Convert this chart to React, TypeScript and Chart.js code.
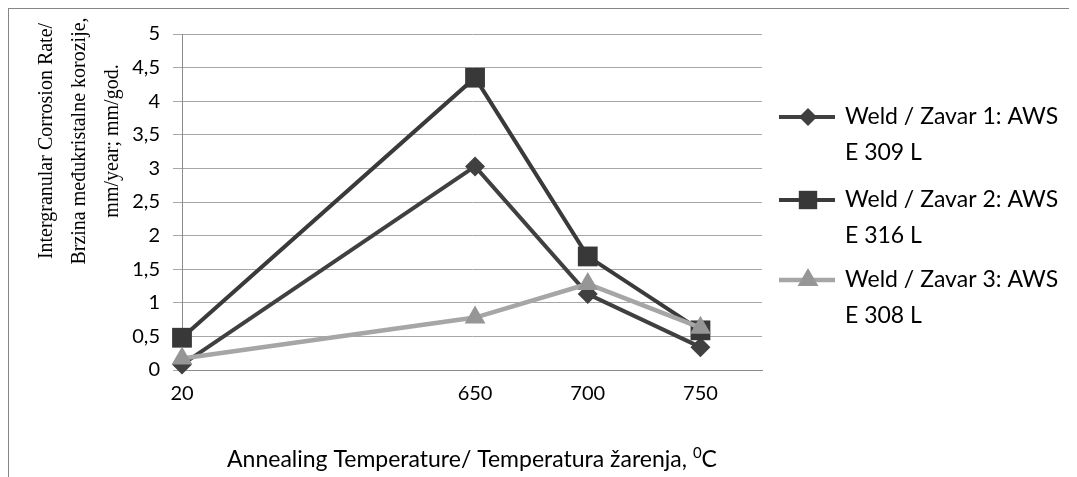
import { useEffect, useRef } from 'react';
import { Chart, registerables } from 'chart.js';

Chart.register(...registerables);

// ---- data ----
const temperatures = [20, 650, 700, 750];
const seriesLabels = [
  'Weld / Zavar 1: AWS E 309 L',
  'Weld / Zavar 2: AWS E 316 L',
  'Weld / Zavar 3: AWS E 308 L',
];
const weld1 = [0.08, 3.03, 1.13, 0.34];
const weld2 = [0.48, 4.35, 1.69, 0.59];
const weld3 = [0.17, 0.78, 1.28, 0.63];
const yTitleLines = ['Intergranular Corrosion Rate/', 'Brzina međukristalne korozije,', 'mm/year; mm/god.'];
const xTitleMain = 'Annealing Temperature/ Temperatura žarenja, ';
const xTitleSup = '0';
const xTitleEnd = 'C';

// ---- axis layout (broken category axis: wide gap after the first category) ----
const BREAK_SPAN = 2.6;
const UNIT_STEP = 50;
const X_MAX = 5.146;
const axisPos = (t: number, i: number) => (i === 0 ? 0 : BREAK_SPAN + (t - temperatures[1]) / UNIT_STEP);

const SANS = 'Lato, "Noto Sans", sans-serif';
const SERIF = '"Liberation Serif", "DejaVu Serif", serif';
const DARK = '#404040';
const LIGHT = '#a6a6a6';
const TEXT_SIZE = 23;

const toPoints = (vals: number[]) => vals.map((v, i) => ({ x: axisPos(temperatures[i], i), y: v }));

function drawMarker(ctx: CanvasRenderingContext2D, style: string, r: number, x: number, y: number) {
  ctx.beginPath();
  if (style === 'rect') {
    const s = Math.SQRT1_2 * r;
    ctx.rect(x - s, y - s, 2 * s, 2 * s);
  } else if (style === 'rectRot') {
    ctx.moveTo(x, y - r);
    ctx.lineTo(x + r, y);
    ctx.lineTo(x, y + r);
    ctx.lineTo(x - r, y);
    ctx.closePath();
  } else {
    const h = r * 1.5;
    const w = (r * Math.sqrt(3)) / 2;
    ctx.moveTo(x, y - r);
    ctx.lineTo(x + w, y - r + h);
    ctx.lineTo(x - w, y - r + h);
    ctx.closePath();
  }
  ctx.fill();
}

const decorPlugin = {
  id: 'decor',
  afterDraw(chart: any) {
    const ctx = chart.ctx as CanvasRenderingContext2D;
    ctx.save();
    // Y title (rotated, three centered lines)
    ctx.fillStyle = '#000';
    ctx.font = `20px ${SERIF}`;
    ctx.textAlign = 'center';
    ctx.textBaseline = 'middle';
    const yLineX = [38, 71, 104];
    yTitleLines.forEach((line, i) => {
      ctx.save();
      ctx.translate(yLineX[i], 132);
      ctx.rotate(-Math.PI / 2);
      ctx.fillText(line, 0, 0);
      ctx.restore();
    });
    // X title with superscript
    ctx.textAlign = 'left';
    ctx.textBaseline = 'alphabetic';
    ctx.font = `${TEXT_SIZE}px ${SANS}`;
    const wMain = ctx.measureText(xTitleMain).width;
    const wEnd = ctx.measureText(xTitleEnd).width;
    ctx.font = `15px ${SANS}`;
    const wSup = ctx.measureText(xTitleSup).width;
    const area = chart.chartArea;
    const cx = (area.left + area.right) / 2;
    let x = cx - (wMain + wSup + wEnd) / 2;
    const base = 458;
    ctx.font = `${TEXT_SIZE}px ${SANS}`;
    ctx.fillText(xTitleMain, x, base);
    x += wMain;
    ctx.font = `15px ${SANS}`;
    ctx.fillText(xTitleSup, x, base - 9);
    x += wSup;
    ctx.font = `${TEXT_SIZE}px ${SANS}`;
    ctx.fillText(xTitleEnd, x, base);

    // Legend
    const entryY = [108, 191, 271];
    const lineGap = 36;
    chart.data.datasets.forEach((ds: any, i: number) => {
      const y = entryY[i];
      ctx.strokeStyle = ds.borderColor;
      ctx.lineWidth = ds.borderWidth;
      ctx.beginPath();
      ctx.moveTo(770, y);
      ctx.lineTo(826, y);
      ctx.stroke();
      ctx.fillStyle = ds.pointBackgroundColor;
      drawMarker(ctx, ds.pointStyle, ds.legendRadius, 799, y);
      // text, wrapped
      ctx.fillStyle = '#000';
      ctx.font = `${TEXT_SIZE}px ${SANS}`;
      ctx.textAlign = 'left';
      ctx.textBaseline = 'middle';
      const words = String(ds.label).split(' ');
      const lines: string[] = [];
      let cur = '';
      words.forEach((w) => {
        const test = cur ? cur + ' ' + w : w;
        if (ctx.measureText(test).width > 228 && cur) {
          lines.push(cur);
          cur = w;
        } else cur = test;
      });
      if (cur) lines.push(cur);
      lines.forEach((l, k) => ctx.fillText(l, 836, y + k * lineGap));
    });
    ctx.restore();
  },
};

export default function App() {
  const ref = useRef<HTMLCanvasElement | null>(null);
  useEffect(() => {
    if (!ref.current) return;
    const chart = new Chart(ref.current, {
      type: 'line',
      data: {
        datasets: [
          {
            label: seriesLabels[0],
            data: toPoints(weld1),
            borderColor: DARK,
            borderWidth: 4,
            pointStyle: 'rectRot',
            pointRadius: 10,
            pointBackgroundColor: DARK,
            pointBorderColor: DARK,
            pointBorderWidth: 0,
            legendRadius: 9,
            order: 2,
            clip: false,
          } as any,
          {
            label: seriesLabels[1],
            data: toPoints(weld2),
            borderColor: '#3a3a3a',
            borderWidth: 4,
            pointStyle: 'rect',
            pointRadius: 14,
            pointBackgroundColor: '#383838',
            pointBorderColor: '#383838',
            pointBorderWidth: 0,
            legendRadius: 13,
            order: 1,
            clip: false,
          } as any,
          {
            label: seriesLabels[2],
            data: toPoints(weld3),
            borderColor: LIGHT,
            borderWidth: 4.5,
            pointStyle: 'triangle',
            pointRadius: 12,
            pointBackgroundColor: '#969696',
            pointBorderColor: '#969696',
            pointBorderWidth: 0,
            legendRadius: 12,
            order: 0,
            clip: false,
          } as any,
        ],
      },
      options: {
        animation: false,
        responsive: true,
        maintainAspectRatio: false,
        layout: { padding: { left: 0, right: 315, top: 20, bottom: 0 } },
        plugins: { legend: { display: false }, tooltip: { enabled: false } },
        scales: {
          x: {
            type: 'linear',
            min: 0,
            max: X_MAX,
            grid: { display: false, drawTicks: false },
            border: { display: true, color: '#8c8c8c', width: 1 },
            afterBuildTicks: (scale: any) => {
              scale.ticks = temperatures.map((t, i) => ({ value: axisPos(t, i) }));
            },
            afterFit: (scale: any) => {
              scale.height = 107;
            },
            ticks: {
              autoSkip: false,
              maxRotation: 0,
              padding: 12,
              color: '#000',
              font: { family: SANS, size: 20 },
              callback: (_v: any, i: number) => String(temperatures[i]),
            },
          },
          y: {
            min: 0,
            max: 5,
            grid: { color: '#a6a6a6', lineWidth: 1, tickLength: 9, drawTicks: true },
            border: { display: true, color: '#8c8c8c', width: 1 },
            afterFit: (scale: any) => {
              scale.width = 173;
            },
            ticks: {
              stepSize: 0.5,
              padding: 13,
              color: '#000',
              font: { family: SANS, size: 20 },
              callback: (v: any) => String(v).replace('.', ','),
            },
          },
        },
      },
      plugins: [decorPlugin],
    });
    return () => chart.destroy();
  }, []);
  return (
    <div
      style={{
        width: 1069,
        height: 469,
        boxSizing: 'border-box',
        borderTop: '1px solid #868686',
        borderLeft: '1px solid #868686',
        position: 'relative',
        overflow: 'hidden',
      }}
    >
      <div style={{ position: 'absolute', left: 0, top: 0, width: 1068, height: 468 }}>
        <canvas ref={ref} />
      </div>
    </div>
  );
}
